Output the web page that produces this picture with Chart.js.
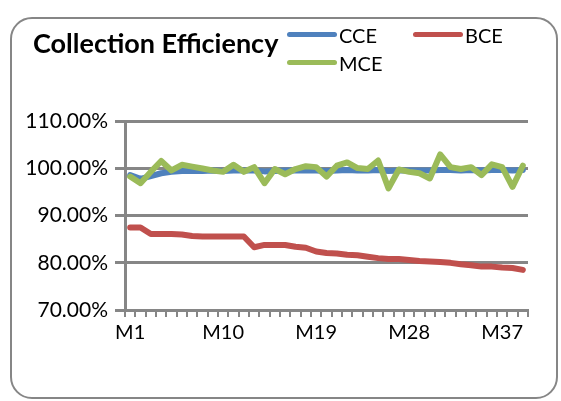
<!DOCTYPE html>
<html>
<head>
<meta charset="utf-8">
<title>Collection Efficiency</title>
<script src="https://cdn.jsdelivr.net/npm/chart.js@4"></script>
<style>
  html, body { margin: 0; padding: 0; background: #fff; }
  #wrap { position: relative; width: 561px; height: 401px; overflow: hidden; }
  #frame {
    position: absolute; left: 10px; top: 17px; width: 544px; height: 378px;
    border: 2.5px solid #868686; border-radius: 22px; pointer-events: none;
  }
  #legend {
    position: absolute; left: 287px; top: 23px;
    display: grid; grid-template-columns: 126px 126px; row-gap: 5px;
    font-family: Lato, sans-serif; font-size: 20px; color: #000;
  }
  .item { display: flex; align-items: center; height: 23px; }
  .swatch { width: 50px; height: 5px; border-radius: 3px; margin-right: 2px; }
</style>
</head>
<body>
<div id="wrap">
  <canvas id="effChart" width="561" height="401"></canvas>
  <div id="legend"></div>
  <div id="frame"></div>
</div>
<script>
// Categories (months)
const months = ["M1", "M2", "M3", "M4", "M5", "M6", "M7", "M8", "M9", "M10",
  "M11", "M12", "M13", "M14", "M15", "M16", "M17", "M18", "M19", "M20",
  "M21", "M22", "M23", "M24", "M25", "M26", "M27", "M28", "M29", "M30",
  "M31", "M32", "M33", "M34", "M35", "M36", "M37", "M38", "M39"];

// Series values, in percent
const cce = [98.6, 97.8, 98.4, 99.0, 99.3, 99.5, 99.5, 99.5, 99.6, 99.5,
  99.6, 99.6, 99.6, 99.4, 99.5, 99.6, 99.6, 99.6, 99.6, 99.5,
  99.6, 99.7, 99.6, 99.6, 99.7, 99.5, 99.6, 99.6, 99.6, 99.6,
  99.7, 99.7, 99.6, 99.7, 99.6, 99.7, 99.7, 99.6, 99.7];
const bce = [87.5, 87.5, 86.1, 86.1, 86.1, 86.0, 85.7, 85.6, 85.6, 85.6,
  85.6, 85.6, 83.3, 83.8, 83.8, 83.8, 83.4, 83.2, 82.4, 82.1,
  82.0, 81.7, 81.6, 81.3, 81.0, 80.8, 80.8, 80.6, 80.4, 80.3,
  80.2, 80.0, 79.7, 79.5, 79.2, 79.2, 79.0, 78.9, 78.5];
const mce = [98.3, 96.9, 99.3, 101.6, 99.6, 100.8, 100.4, 100.0, 99.6, 99.3,
  100.8, 99.3, 100.3, 96.9, 99.9, 98.8, 99.9, 100.5, 100.3, 98.3,
  100.6, 101.3, 100.1, 99.9, 101.7, 95.8, 99.8, 99.3, 99.0, 97.9,
  103.0, 100.3, 99.9, 100.3, 98.6, 100.9, 100.3, 96.1, 100.6];

// Tick labels shown on the category axis
const xTickLabels = ["M1", "M10", "M19", "M28", "M37"];
const yMin = 70, yMax = 110, yStep = 10;

Chart.defaults.font.family = "Lato, sans-serif";
Chart.defaults.color = "#000";

// Legend drawn as html (two columns like the original)
const htmlLegend = {
  id: "htmlLegend",
  afterUpdate(chart) {
    const box = document.getElementById("legend");
    box.innerHTML = "";
    chart.data.datasets.forEach((ds) => {
      const item = document.createElement("div");
      item.className = "item";
      const sw = document.createElement("span");
      sw.className = "swatch";
      sw.style.background = ds.borderColor;
      const tx = document.createElement("span");
      tx.textContent = ds.label;
      item.append(sw, tx);
      box.appendChild(item);
    });
  },
};

// title sits a bit right of the y labels in the original
const titleShift = {
  id: "titleShift",
  afterLayout(chart) {
    chart.titleBlock.left += 15;
  },
};

const gridGray = "#868686";

new Chart(document.getElementById("effChart"), {
  type: "line",
  data: {
    labels: months,
    datasets: [
      { label: "CCE", data: cce, borderColor: "#4F81BD", backgroundColor: "#4F81BD", order: 2 },
      { label: "BCE", data: bce, borderColor: "#C0504D", backgroundColor: "#C0504D", order: 1 },
      { label: "MCE", data: mce, borderColor: "#9BBB59", backgroundColor: "#9BBB59", order: 0 },
    ],
  },
  options: {
    responsive: false,
    animation: false,
    elements: {
      point: { radius: 0 },
      line: { borderWidth: 6, tension: 0, borderCapStyle: "round", borderJoinStyle: "round" },
    },
    layout: { padding: { left: 18, right: 33, top: 28, bottom: 49 } },
    plugins: {
      legend: { display: false },
      tooltip: { enabled: false },
      title: {
        display: true,
        text: "Collection Efficiency",
        align: "start",
        color: "#000",
        font: { size: 27, weight: "bold" },
        padding: { top: 0, bottom: 61 },
      },
    },
    scales: {
      x: {
        offset: true,
        grid: { drawOnChartArea: false, drawTicks: true, tickLength: 7, offset: true, color: gridGray, lineWidth: 2 },
        border: { display: true, color: gridGray, width: 3 },
        ticks: {
          autoSkip: false,
          maxRotation: 0,
          padding: 4,
          font: { size: 20 },
          callback: function (v) {
            const l = this.getLabelForValue(v);
            return xTickLabels.includes(l) ? l : "";
          },
        },
        afterFit: (s) => { s.height = 42; },
      },
      y: {
        min: yMin,
        max: yMax,
        grid: { color: gridGray, lineWidth: 3, tickLength: 10 },
        border: { color: gridGray, width: 3 },
        ticks: {
          stepSize: yStep,
          padding: 7,
          font: { size: 21 },
          callback: (v) => v.toFixed(2) + "%",
        },
        afterFit: (s) => { s.width = 107; },
      },
    },
  },
  plugins: [htmlLegend, titleShift],
});
</script>
</body>
</html>
